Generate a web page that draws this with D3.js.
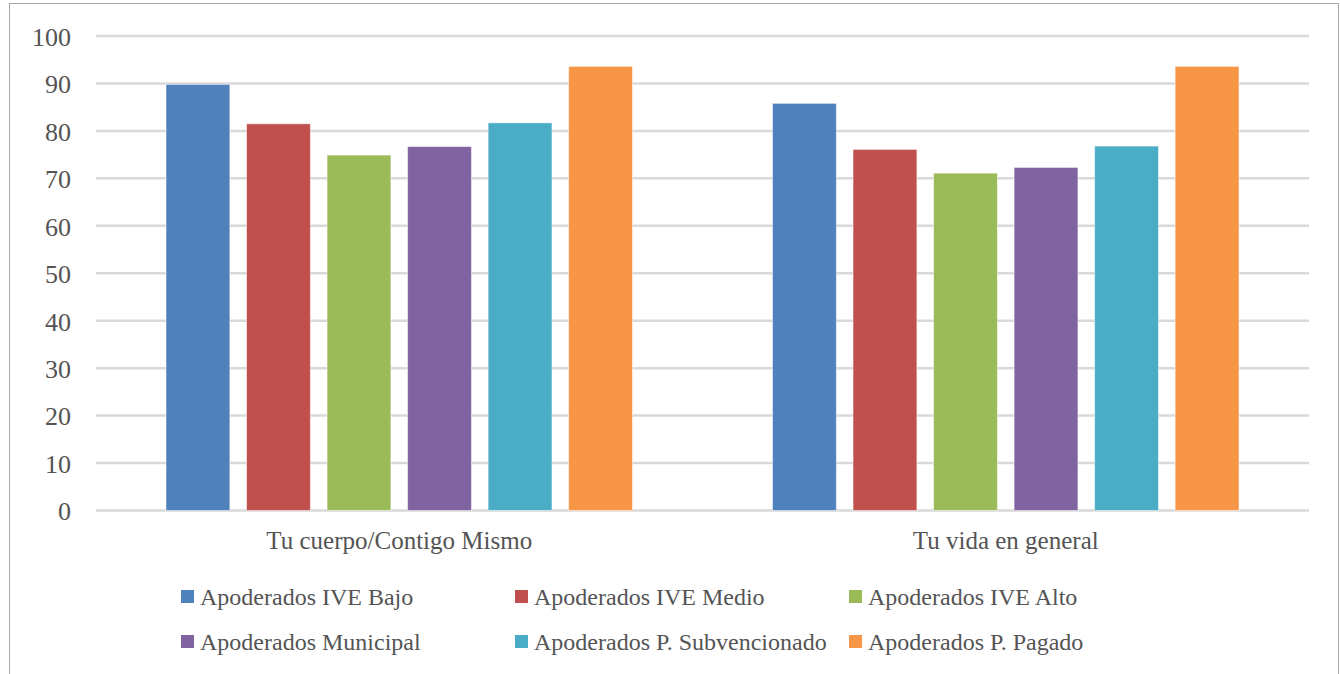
<!DOCTYPE html>
<html lang="es">
<head>
<meta charset="UTF-8">
<title>Apoderados</title>
<script src="https://d3js.org/d3.v7.min.js"></script>
<style>
    * { margin: 0; padding: 0; }
    body { background: #fff; width: 1340px; height: 674px; overflow: hidden; }
    svg { display: block; font-family: "Liberation Serif", "DejaVu Serif", serif; }
</style>
</head>
<body>
<svg width="1340" height="674"></svg>
<script>
    const categories = ["Tu cuerpo/Contigo Mismo", "Tu vida en general"];
    const seriesNames = [
        "Apoderados IVE Bajo", "Apoderados IVE Medio", "Apoderados IVE Alto",
        "Apoderados Municipal", "Apoderados P. Subvencionado", "Apoderados P. Pagado"
    ];
    const seriesColors = ["#4F81BD", "#C0504D", "#9BBB59", "#8064A2", "#4BACC6", "#F79646"];
    // values per series: [Tu cuerpo, Tu vida]
    const ivBajo = [89.8, 85.8];
    const ivMedio = [81.5, 76.1];
    const ivAlto = [74.9, 71.1];
    const municipal = [76.7, 72.3];
    const subvencionado = [81.7, 76.8];
    const pagado = [93.6, 93.6];
    const yTicks = [0, 10, 20, 30, 40, 50, 60, 70, 80, 90, 100];

    const seriesValues = [ivBajo, ivMedio, ivAlto, municipal, subvencionado, pagado];

    const svg = d3.select("svg");
    const textColor = "#545454";

    // outer frame
    svg.append("rect")
        .attr("x", 9.5).attr("y", 3.5)
        .attr("width", 1329).attr("height", 690)
        .attr("fill", "none").attr("stroke", "#a6a6a6").attr("stroke-width", 1);

    const plot = { left: 96, right: 1309, top: 36, bottom: 510.5 };

    const x0 = d3.scaleBand().domain(categories).range([plot.left, plot.right]).padding(0);
    const x1 = d3.scaleBand().domain(d3.range(seriesNames.length))
        .range([70, x0.bandwidth() - 70]).paddingInner(0.207).paddingOuter(0);
    const y = d3.scaleLinear().domain([0, 100]).range([plot.bottom, plot.top]);

    // gridlines
    svg.append("g")
        .selectAll("line")
        .data(yTicks)
        .join("line")
        .attr("x1", plot.left).attr("x2", plot.right)
        .attr("y1", d => y(d)).attr("y2", d => y(d))
        .attr("stroke", "#d9d9d9").attr("stroke-width", 2.5);

    // y axis labels
    const yAxis = svg.append("g")
        .attr("transform", `translate(${plot.left - 25},1)`)
        .call(d3.axisLeft(y).tickValues(yTicks).tickSize(0).tickPadding(0));
    yAxis.select(".domain").remove();
    yAxis.selectAll("text")
        .attr("font-family", "Liberation Serif, serif")
        .attr("font-size", 26)
        .attr("fill", textColor);

    // bars
    const groups = svg.append("g")
        .selectAll("g")
        .data(categories)
        .join("g")
        .attr("transform", d => `translate(${x0(d)},0)`);

    groups.selectAll("rect")
        .data((c, ci) => seriesValues.map((vals, si) => ({ si, v: vals[ci] })))
        .join("rect")
        .attr("x", d => x1(d.si))
        .attr("width", x1.bandwidth())
        .attr("y", d => y(d.v))
        .attr("height", d => y(0) - y(d.v))
        .attr("fill", d => seriesColors[d.si])
        .attr("stroke", "#ffffff")
        .attr("stroke-opacity", 0.5)
        .attr("stroke-width", 1);

    // category labels
    svg.append("g")
        .selectAll("text")
        .data(categories)
        .join("text")
        .attr("x", d => x0(d) + x0.bandwidth() / 2)
        .attr("y", 549)
        .attr("text-anchor", "middle")
        .attr("font-size", 25)
        .attr("fill", textColor)
        .text(d => d);

    // legend
    const legendCols = [181, 515, 849];
    const legendRows = [597, 642];
    const legend = svg.append("g")
        .selectAll("g")
        .data(seriesNames)
        .join("g")
        .attr("transform", (d, i) => `translate(${legendCols[i % 3]},${legendRows[Math.floor(i / 3)]})`);

    legend.append("rect")
        .attr("x", 0).attr("y", -7)
        .attr("width", 13).attr("height", 13)
        .attr("fill", (d, i) => seriesColors[i]);

    legend.append("text")
        .attr("x", 19).attr("y", 8)
        .attr("font-size", 24)
        .attr("fill", textColor)
        .text(d => d);
</script>
</body>
</html>
